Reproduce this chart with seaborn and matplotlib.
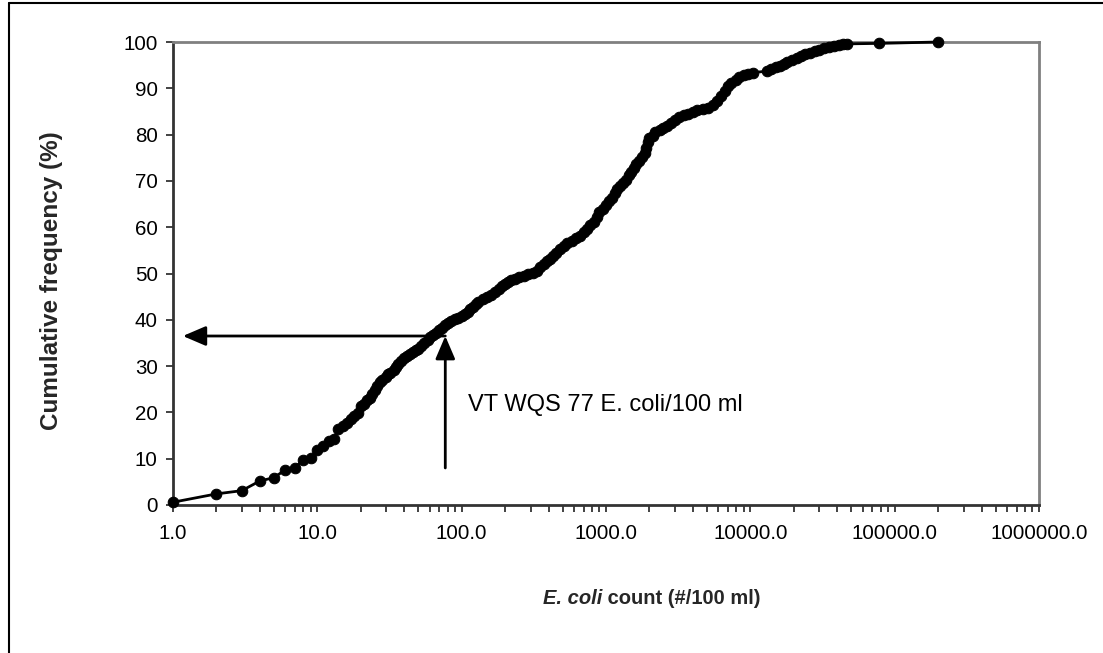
import matplotlib
matplotlib.use("Agg")
import matplotlib.pyplot as plt
import seaborn as sns
import pandas as pd
from matplotlib.lines import Line2D
from matplotlib.ticker import FixedLocator, LogLocator, NullFormatter, FuncFormatter

# ---- data ----
ecoli_count = [
    1, 2, 3, 4, 5, 6, 7, 8, 9, 10, 11, 12, 13, 14, 15, 16, 17, 18, 19, 20,
    21, 22, 23, 24, 25, 26, 27, 28, 30, 31, 32, 34, 35, 36, 38, 40, 42, 44, 46, 48,
    50, 52, 55, 58, 60, 63, 66, 70, 73, 77, 80, 85, 90, 95, 100, 105, 110, 115, 120, 125,
    130, 140, 150, 160, 170, 180, 190, 200, 210, 220, 235, 250, 270, 290, 310, 330, 350, 370, 390, 410,
    430, 450, 480, 510, 540, 580, 620, 660, 700, 740, 780, 820, 860, 900, 950, 1000, 1050, 1100, 1150, 1200,
    1260, 1320, 1380, 1440, 1500, 1560, 1620, 1700, 1780, 1850, 1900, 1950, 2000, 2100, 2200, 2350, 2500, 2650, 2800, 3000,
    3200, 3450, 3700, 4000, 4300, 4700, 5100, 5500, 5900, 6300, 6700, 7000, 7400, 7900, 8400, 9000, 9700, 10500, 13000, 14000,
    15000, 16000, 17000, 18000, 19500, 21000, 22500, 24000, 26000, 28000, 30000, 32500, 35000, 38000, 41000, 44000, 47000, 78000, 200000,
]
cum_freq = [
    0.6, 2.4, 3.1, 5.2, 5.9, 7.6, 8.0, 9.8, 10.2, 11.8, 12.8, 13.8, 14.3, 16.4, 17.0, 17.8, 18.6, 19.2, 19.8, 21.3,
    21.9, 22.6, 23.2, 24.0, 24.8, 25.6, 26.6, 27.0, 27.6, 28.2, 28.6, 29.2, 29.8, 30.4, 31.0, 31.8, 32.2, 32.6, 33.1, 33.4,
    33.8, 34.4, 35.0, 35.6, 36.2, 36.8, 37.2, 37.8, 38.2, 38.8, 39.3, 39.8, 40.1, 40.4, 40.8, 41.2, 41.6, 42.3, 42.8, 43.4,
    43.8, 44.4, 44.9, 45.4, 46.0, 46.6, 47.2, 47.8, 48.2, 48.6, 48.9, 49.2, 49.5, 49.8, 50.1, 50.6, 51.3, 52.0, 52.7, 53.2,
    53.8, 54.5, 55.3, 56.0, 56.6, 57.1, 57.6, 58.2, 59.0, 59.6, 60.4, 61.2, 62.3, 63.2, 64.0, 64.8, 65.6, 66.4, 67.3, 68.2,
    68.8, 69.5, 70.3, 71.2, 72.0, 72.8, 73.6, 74.4, 75.2, 76.0, 77.2, 78.5, 79.2, 79.8, 80.5, 81.0, 81.4, 81.9, 82.5, 83.2,
    83.8, 84.2, 84.5, 84.9, 85.3, 85.6, 85.8, 86.4, 87.3, 88.3, 89.4, 90.4, 91.2, 91.8, 92.4, 92.8, 93.1, 93.4, 93.7, 94.1,
    94.5, 94.9, 95.3, 95.7, 96.1, 96.6, 97.0, 97.4, 97.7, 98.0, 98.3, 98.6, 98.9, 99.1, 99.3, 99.5, 99.6, 99.7, 100.0,
]
x_tick_values = [1, 10, 100, 1000, 10000, 100000, 1000000]
y_tick_values = [0, 10, 20, 30, 40, 50, 60, 70, 80, 90, 100]
wqs_value = 77
wqs_freq = 36.5
wqs_label = "VT WQS 77 E. coli/100 ml"
x_label_italic = "E. coli"
x_label_rest = " count (#/100 ml)"
y_label = "Cumulative frequency (%)"

# ---- styling ----
sns.set_theme(style="white")
plt.rcParams["font.family"] = ["Liberation Sans", "DejaVu Sans"]

df = pd.DataFrame({"count": ecoli_count, "freq": cum_freq})

W, H = 1103, 653
fig = plt.figure(figsize=(W / 100, H / 100), dpi=100)
ax = fig.add_axes([173 / W, 1 - 505 / H, (1039 - 173) / W, (505 - 42) / H])

sns.lineplot(data=df, x="count", y="freq", ax=ax, sort=False, estimator=None,
             color="black", lw=2, marker="o", markersize=7.6,
             markeredgecolor="black", markerfacecolor="black", clip_on=False, zorder=5)

ax.set_xscale("log")
ax.set_xlim(x_tick_values[0], x_tick_values[-1])
ax.set_ylim(y_tick_values[0], y_tick_values[-1])
ax.xaxis.set_major_locator(FixedLocator(x_tick_values))
ax.xaxis.set_major_formatter(FuncFormatter(lambda v, p: f"{v:.1f}"))
ax.xaxis.set_minor_locator(LogLocator(base=10, subs=range(2, 10), numticks=100))
ax.xaxis.set_minor_formatter(NullFormatter())
ax.yaxis.set_major_locator(FixedLocator(y_tick_values))
ax.yaxis.set_major_formatter(FuncFormatter(lambda v, p: f"{v:.0f}"))

ax.tick_params(axis="both", which="both", direction="out", color="#222222",
               width=1.2, labelsize=14.8, labelcolor="black")
ax.tick_params(axis="both", which="major", length=5, pad=7)
ax.tick_params(axis="x", which="minor", length=5, bottom=True)
ax.tick_params(axis="x", which="major", bottom=True, pad=9)
ax.tick_params(axis="y", which="major", left=True, pad=6)

for side in ["left", "bottom"]:
    ax.spines[side].set_color("#333333")
    ax.spines[side].set_linewidth(2)
for side in ["top", "right"]:
    ax.spines[side].set_color("#808080")
    ax.spines[side].set_linewidth(2)
    ax.spines[side].set_visible(True)

ax.set_xlabel("")
ax.set_ylabel(y_label, fontsize=17.5, fontweight="bold")
ax.yaxis.set_label_coords((52 - 173) / 866, (505 - 281) / 463)
ax.yaxis.label.set_va("center")

# x label made of an italic part and an upright part, centred as one line
xl_size = 14.5
t1 = fig.text(0, 1 - 598 / H, x_label_italic, fontsize=xl_size, fontweight="bold",
              fontstyle="italic", va="center", ha="left")
t2 = fig.text(0, 1 - 598 / H, x_label_rest, fontsize=xl_size, fontweight="bold",
              va="center", ha="left")
fig.canvas.draw()
r = fig.canvas.get_renderer()
w1 = t1.get_window_extent(r).width
w2 = t2.get_window_extent(r).width
start = 652 - (w1 + w2) / 2
t1.set_x(start / W)
t2.set_x((start + w1) / W)

# arrows
arrow_style = "-|>,head_length=0.7,head_width=0.3"
ax.annotate("", xy=(1.17, wqs_freq), xytext=(wqs_value, wqs_freq),
            arrowprops=dict(arrowstyle=arrow_style, color="black", lw=2,
                            mutation_scale=20, shrinkA=0, shrinkB=0), zorder=6)
ax.annotate("", xy=(wqs_value, wqs_freq), xytext=(wqs_value, 8),
            arrowprops=dict(arrowstyle=arrow_style, color="black", lw=2,
                            mutation_scale=20, shrinkA=0, shrinkB=0), zorder=6)
ax.text(111, 21.6, wqs_label, fontsize=17, va="center", ha="left", color="black")

# outer chart border (partially cropped in reference)
fig.add_artist(Line2D([9 / W, 9 / W], [-0.05, 1 - 3 / H], transform=fig.transFigure,
                      color="black", lw=1.5))
fig.add_artist(Line2D([9 / W, 1.05], [1 - 3 / H, 1 - 3 / H], transform=fig.transFigure,
                      color="black", lw=1.5))

fig.savefig("out.png", dpi=100, facecolor="white")
